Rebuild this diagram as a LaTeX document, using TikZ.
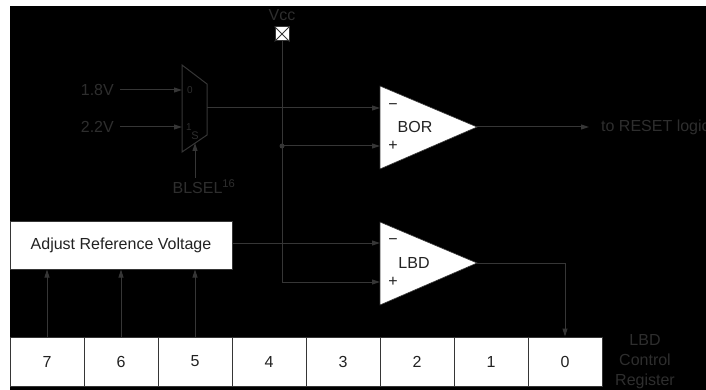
\documentclass[tikz,border=0pt]{standalone}
\usepackage{fontspec}
\setmainfont{Liberation Sans}
\usetikzlibrary{arrows.meta}
\definecolor{linec}{HTML}{363636}
\definecolor{textc}{HTML}{2E2E2E}
\definecolor{darkt}{HTML}{222222}
\begin{document}
\begin{tikzpicture}[x=1pt,y=-1pt,
  wire/.style={draw=linec,line width=1pt},
  arr/.style={wire,-{Triangle[length=8pt,width=5pt]}},
  lbl/.style={text=textc,font=\fontsize{16}{20}\selectfont,inner sep=0pt},
  small/.style={text=textc,font=\fontsize{10}{12}\selectfont,inner sep=0pt},
  intext/.style={text=darkt,font=\fontsize{16}{20}\selectfont,inner sep=0pt},
  cell/.style={draw=linec,fill=white,line width=1pt,minimum width=74pt,minimum height=49pt,inner sep=0pt,text=darkt,font=\fontsize{16}{20}\selectfont}]
\useasboundingbox (0,0) rectangle (706,390);
\fill[white] (0,0) rectangle (706,390);
\fill[black] (10,6) rectangle (706,390);

% Vcc
\node[lbl] (vcclbl) at (282,15) {Vcc};
\node[draw=linec,fill=white,line width=1pt,minimum size=14pt,inner sep=0pt] (vcc) at (282,34) {};
\draw[linec,line width=1pt] (vcc.north west) -- (vcc.south east) (vcc.north east) -- (vcc.south west);

% Mux
\draw[wire] (182,65) -- (207,84) -- (207,135) -- (182,152) -- cycle;
\coordinate (in0) at (182,90);
\coordinate (in1) at (182,127);
\coordinate (sel) at (195,143);
\coordinate (muxout) at (207,108);
\node[small] (m0) at (190,90) {0};
\node[small] (m1) at (189,127) {1};
\node[small,font=\fontsize{11}{12}\selectfont] (ms) at (195,136) {S};
\node[lbl,anchor=east] (v18) at (114,90) {1.8V};
\node[lbl,anchor=east] (v22) at (114,127) {2.2V};
\node[lbl,anchor=north] (blsel) at (204,179) {BLSEL\textsuperscript{16}};
\draw[arr] ([xshift=6pt]v18.east) -- (in0);
\draw[arr] ([xshift=6pt]v22.east) -- (in1);
\draw[arr] (195,178) -- (sel);

% BOR comparator
\filldraw[fill=white,draw=linec,line width=0.6pt] (380,86) -- (477,127) -- (380,169) -- cycle;
\coordinate (bormin) at (380,108);
\coordinate (borplus) at (380,146);
\coordinate (borout) at (477,127);
\node[intext] (bm) at (393,107) {−};
\node[intext] (bor) at (415,127) {BOR};
\node[intext] (bp) at (393,146) {+};

% LBD comparator
\filldraw[fill=white,draw=linec,line width=0.6pt] (380,222) -- (477,263) -- (380,305) -- cycle;
\coordinate (lbdmin) at (380,243);
\coordinate (lbdplus) at (380,282);
\coordinate (lbdout) at (477,263);
\node[intext] (lm) at (393,242) {−};
\node[intext] (lbd) at (414,263) {LBD};
\node[intext] (lp) at (393,282) {+};

% reset output
\node[lbl,anchor=west] (reset) at (601,127) {to RESET logic};
\draw[arr] (borout) -- (589,127);

% mux to BOR
\draw[arr] (muxout) -- (bormin);

% Vcc line
\coordinate (junc) at (282,146);
\draw[wire] (vcc.south) -- (282,282);
\draw[arr] (282,282) -- (lbdplus);
\fill[linec] (junc) circle (2.5pt);
\draw[arr] (junc) -- (borplus);

% Adjust box
\node[draw=linec,fill=white,line width=1pt,minimum width=222pt,minimum height=48pt,inner sep=0pt,text=darkt,font=\fontsize{16}{20}\selectfont] (adj) at (121,245) {Adjust Reference Voltage};
\draw[arr] (adj.east |- lbdmin) -- (lbdmin);

% Register
\foreach \i/\b in {0/7,1/6,2/5,3/4,4/3,5/2,6/1,7/0} {
  \node[cell] (c\b) at (47+74*\i,361.5) {\b};
}
\draw[arr] (c7.north) -- (c7.north |- adj.south);
\draw[arr] (c6.north) -- (c6.north |- adj.south);
\draw[arr] (c5.north) -- (c5.north |- adj.south);
\draw[arr] (lbdout) -| (c0.north);

\node[lbl,align=center,font=\fontsize{16}{20}\selectfont] (reglbl) at (645,362) {LBD\\Control\\Register};
\end{tikzpicture}
\end{document}
